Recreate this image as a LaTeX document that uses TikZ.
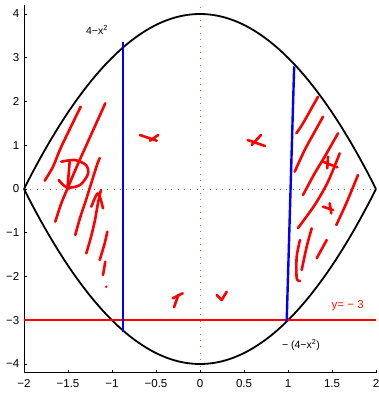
\documentclass[tikz,border=0pt]{standalone}
\usepackage{fontspec}
\setmainfont{Liberation Sans}
\usetikzlibrary{positioning}

\begin{document}
\begin{tikzpicture}[x=1pt, y=-1pt,
  every node/.style={font=\fontsize{11.5}{13}\selectfont, inner sep=0pt},
  curve/.style={line width=1.8pt, black},
  cut/.style={line width=2.4pt, blue},
  scribble/.style={red, line width=2.6pt, line cap=round, line join=round}]
  \useasboundingbox (0,0) rectangle (379,394);
  % data part: x from -2 to 2, y from -4.2 to 4.2
  \begin{scope}[shift={(200,189)}, x=88pt, y=43.75pt]
    \def\yt{4.2}
    \draw[blue!55, line width=0.8pt, dash pattern=on 0.8pt off 5.6pt] (0,-\yt) -- (0,\yt);
    \draw[blue!55, line width=0.8pt, dash pattern=on 0.8pt off 5.6pt] (-2,0) -- (2,0);
    \draw[line width=0.8pt] (-2,\yt) -- (-2,-\yt) -- (2,-\yt);
    \foreach \i/\t in {-4/−4,-3/−3,-2/−2,-1/−1,0/0,1/1,2/2,3/3,4/4} {
      \draw[line width=0.6pt] (-2,\i) -- ++(3pt,0);
      \node[left=4.5pt] (ylab\i) at (-2,\i) {\t};
    }
    \foreach \i/\t [count=\k] in {-2/−2,-1.5/−1.5,-1/−1,-0.5/−0.5,0/0,0.5/0.5,1/1,1.5/1.5,2/2} {
      \draw[line width=0.6pt] (\i,-\yt) -- ++(0,3pt);
      \node[below=6.5pt] (xlab\k) at (\i,-\yt) {\t};
    }
    \draw[curve] plot[domain=-2:2, samples=90] (\x, {4-\x*\x});
    \draw[curve] plot[domain=-2:2, samples=90] (\x, {\x*\x-4});
    \draw[red, line width=2.4pt] (-2,-3) -- (2,-3);
    \draw[cut] (-0.878,3.37) -- (-0.878,-3.26);
    \draw[cut] (1.07,2.80) -- (0.985,-3.03);
  \end{scope}
  % hand marks, left part
  \draw[scribble] plot[smooth] coordinates {(44.7,180.7) (53,166.7) (61.3,146.7) (80.7,106.7)};
  \draw[scribble] plot[smooth] coordinates {(55.3,221.7) (61.3,203.3) (69.7,183.3) (79.7,160) (105.3,103.3)};
  \draw[scribble] (69.7,161.7) -- (67.3,190);
  \draw[scribble] plot[smooth] coordinates {(61.3,161.7) (74.7,160) (86,165) (88,174) (80,185) (67,187.5) (58.7,180)};
  \draw[scribble] plot[smooth] coordinates {(75.3,235) (80,218) (86,200) (91,184) (97,165) (99.7,158)};
  \draw[scribble] plot[smooth] coordinates {(86.3,253.3) (91,237) (95,220) (98,203) (101,190)};
  \draw[scribble] plot[smooth] coordinates {(91.3,206.7) (98,193.3) (103,208.3)};
  \draw[scribble] plot[smooth] coordinates {(99.7,260) (104.7,243.3) (107.3,231.7)};
  \draw[scribble] (103,275) -- (105.3,261.7);
  \fill[red] (106.3,286.7) circle (1.4pt);
  % hand marks, right part
  \draw[scribble] plot[smooth] coordinates {(296.3,133.3) (303,123.3) (318,96.7)};
  \draw[scribble] plot[smooth] coordinates {(294.7,171.7) (304.7,150) (314,133) (323,116.7)};
  \draw[scribble] plot[smooth] coordinates {(303,195) (314.7,173.3) (324.7,156.7) (338,133.3)};
  \draw[scribble] plot[smooth] coordinates {(298,228) (314.7,205) (328,181.7) (339.7,153.3)};
  \draw[scribble] plot[smooth] coordinates {(336.3,225) (346.3,203.3) (358,175)};
  \draw[scribble] (323,161.7) -- (337.3,167.3);
  \draw[scribble] (328,156.7) -- (327.3,168.3);
  \draw[scribble] (323,206.7) -- (333,210);
  \draw[scribble] (329.7,203.3) -- (331.3,213.3);
  \draw[scribble] plot[smooth] coordinates {(300,240) (296.7,256.7) (296.7,278) (300,281)};
  \draw[scribble] plot[smooth] coordinates {(311.7,228.3) (306.7,246.7) (301.7,270)};
  \draw[scribble] (326.7,240) -- (316.7,258.3);
  % hand marks, middle
  \draw[scribble] (140,135) -- (156.7,140.7);
  \draw[scribble] (150,140.7) -- (158.3,135);
  \draw[scribble] (247.7,140) -- (265,146);
  \draw[scribble] (251.7,145) -- (261,135);
  \draw[scribble] (172.7,298.3) -- (182.7,293.3);
  \draw[scribble] (178.3,295) -- (174,307.3);
  \draw[scribble] (216.7,295) -- (221.7,300) -- (226.7,291.7);
  % labels
  \node[font=\fontsize{10.5}{12}\selectfont] (upper) at (97,30) {4−x\textsuperscript{2}};
  \node[font=\fontsize{10.5}{12}\selectfont] (lower) at (301,345) {− (4−x\textsuperscript{2})};
  \node[text=red!85!orange] (level) at (347.7,306) {y= − 3};
\end{tikzpicture}
\end{document}
